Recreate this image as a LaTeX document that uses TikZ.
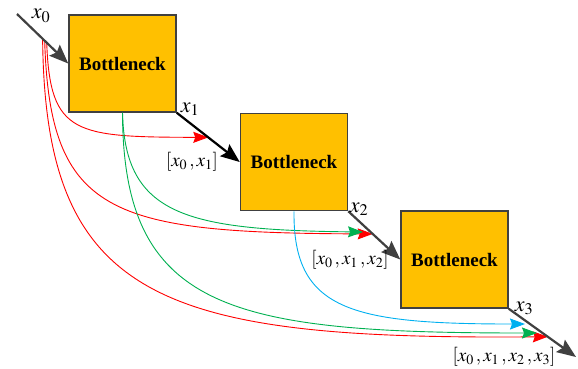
\documentclass[tikz,border=0pt]{standalone}
\usepackage{mathptmx}
\usepackage{fontspec}
\setmainfont{Liberation Serif}
\usepackage{tikz}
\usetikzlibrary{arrows.meta, positioning, calc}
\definecolor{DarkGray}{RGB}{64, 64, 64}
\definecolor{BoxOrange}{RGB}{255, 192, 0}
\definecolor{SkipRed}{RGB}{255, 0, 0}
\definecolor{SkipGreen}{RGB}{0, 176, 80}
\definecolor{SkipBlue}{RGB}{0, 176, 240}

\begin{document}
\begin{tikzpicture}[x=1pt, y=-1pt,
            block/.style={draw=DarkGray, line width=1.5pt, fill=BoxOrange, minimum width=107pt, minimum height=97pt, font=\fontsize{19}{21}\selectfont\bfseries},
            mainflow/.style={line width=2.2pt, DarkGray, -{Stealth[length=19pt, width=15pt, inset=3pt]}},
            skipline/.style={line width=0.9pt, -{Stealth[length=15pt, width=11pt, inset=2pt]}},
            xlab/.style={font=\fontsize{22}{24}\selectfont, inner sep=0pt},
            catlab/.style={font=\fontsize{19}{21}\selectfont, inner sep=0pt}
        ]
        \useasboundingbox (0,0) rectangle (578,368);

        % The Boxes
        \node[block] (b1) at (122.5,63.5) {Bottleneck};
        \node[block] (b2) at (294,162) {Bottleneck};
        \node[block] (b3) at (454.5,259.5) {Bottleneck};
        \coordinate (in) at (17,14);
        \coordinate (out) at (576,357);

        % Skip connections
        \coordinate (r1s) at ($(in)!0.58!(b1.west)$);
        \coordinate (r2s) at ($(in)!0.54!(b1.west)$);
        \coordinate (r3s) at ($(in)!0.5!(b1.west)$);
        \coordinate (r1e) at ($(b1.south east)!0.5!(b2.west)$);
        \coordinate (r2e) at ($(b2.south east)!0.47!(b3.west)$);
        \coordinate (g2e) at (363,232);
        \coordinate (r3e) at ($(b3.south east)!0.58!(out)$);
        \coordinate (g3e) at (537,333);
        \coordinate (c3e) at (525,324);

        \draw[skipline, SkipRed] (r1s) .. controls (50,135) and (75,137) .. (r1e);
        \draw[skipline, SkipRed] (r2s) .. controls (50,215) and (110,233) .. (r2e);
        \draw[skipline, SkipRed] (r3s) .. controls (45,300) and (160,340) .. (r3e);
        \draw[skipline, SkipGreen] (b1.south) .. controls (125,215) and (185,230) .. (g2e);
        \draw[skipline, SkipGreen] (b1.south) .. controls (123,310) and (230,333) .. (g3e);
        \draw[skipline, SkipBlue] (b2.south) .. controls (293,310) and (350,324) .. (c3e);

        % Main path
        \draw[mainflow] (in) -- (b1.west);
        \draw[mainflow, black] (b1.south east) -- (b2.west);
        \draw[mainflow] (b2.south east) -- (b3.west);
        \draw[mainflow] (b3.south east) -- (out);

        % Labels
        \node[xlab] (l0) at (41,16) {$x_0$};
        \node[xlab] (l1) at (190,109) {$x_1$};
        \node[xlab] (l2) at (359,209) {$x_2$};
        \node[xlab] (l3) at (524,308) {$x_3$};
        \node[catlab] (k1) at (192,162) {$[x_0\,, x_1]$};
        \node[catlab] (k2) at (350,260) {$[x_0\,, x_1\,, x_2]$};
        \node[catlab] (k3) at (504,357) {$[x_0\,, x_1\,, x_2\,, x_3]$};

        \end{tikzpicture}
\end{document}
